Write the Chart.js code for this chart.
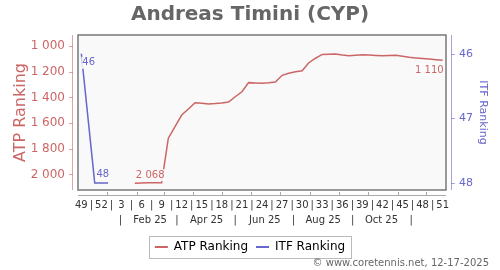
<!DOCTYPE html>
<html>
<head>
<meta charset="utf-8">
<script src="https://cdn.jsdelivr.net/npm/chart.js@4.4.0/dist/chart.umd.min.js"></script>
<style>
  html, body { margin: 0; padding: 0; background: #fff; }
</style>
</head>
<body>
<canvas id="rankChart" width="500" height="270"></canvas>
<script>
// week numbers, Dec 2024 (wk 49) to Dec 2025 (wk 51)
var weekNumbers = [49, 50, 51, 52, 1, 2, 3, 4, 5, 6, 7, 8, 9, 10, 11, 12, 13, 14, 15, 16,
    17, 18, 19, 20, 21, 22, 23, 24, 25, 26, 27, 28, 29, 30, 31, 32, 33, 34, 35, 36,
    37, 38, 39, 40, 41, 42, 43, 44, 45, 46, 47, 48, 49, 50, 51];

var atpRanking = [null, null, null, null, null, null, null, null,
    2068, 2066, 2065, 2064, 2064, 1718, 1627, 1537, 1490, 1441, 1446, 1451,
    1448, 1443, 1436, 1395, 1356, 1285, 1288, 1290, 1286, 1280, 1228, 1212,
    1200, 1192, 1130, 1095, 1065, 1063, 1062, 1070, 1075, 1072, 1068, 1070,
    1073, 1075, 1073, 1072, 1080, 1088, 1093, 1097, 1101, 1106, 1110];

var itfRanking = [46, 47, 48, 48, 48];

var atpTicks = [1000, 1200, 1400, 1600, 1800, 2000];
var itfTicks = [46, 47, 48];
var monthLabels = ["Feb 25", "Apr 25", "Jun 25", "Aug 25", "Oct 25"];
var monthLabelDates = [[2025, 1, 15], [2025, 3, 15], [2025, 5, 15], [2025, 7, 15], [2025, 9, 15]];
var monthSepDates = [[2025, 0, 15], [2025, 2, 15], [2025, 4, 15], [2025, 6, 15], [2025, 8, 15], [2025, 10, 15]];
var monthStartDates = [[2025, 0, 1], [2025, 1, 1], [2025, 2, 1], [2025, 3, 1], [2025, 4, 1], [2025, 5, 1],
    [2025, 6, 1], [2025, 7, 1], [2025, 8, 1], [2025, 9, 1], [2025, 10, 1], [2025, 11, 1]];

var atpColor = "#cc6666";
var itfColor = "#6666cc";
var font = "'DejaVu Sans', Verdana, sans-serif";

// position in weeks, point 0 = Thursday of week 49 2024
function weekPos(d) {
    return (Date.UTC(d[0], d[1], d[2]) - Date.UTC(2024, 11, 5)) / (7 * 86400000);
}
function fmt(v) {
    return String(v).replace(/\B(?=(\d{3})+(?!\d))/g, " ");
}

var weekTickVals = [];
for (var i = 0; i < weekNumbers.length; i += 3) {
    weekTickVals.push(i);
    if (i + 3 < weekNumbers.length) weekTickVals.push(i + 1.5);
}
var monthTickVals = [];
var monthTickText = {};
monthSepDates.forEach(function (d) { var p = weekPos(d); monthTickVals.push(p); monthTickText[p] = "|"; });
monthLabelDates.forEach(function (d, k) { var p = weekPos(d); monthTickVals.push(p); monthTickText[p] = monthLabels[k]; });
monthTickVals.sort(function (a, b) { return a - b; });

var plotDeco = {
    id: "plotDeco",
    beforeDatasetsDraw: function (chart) {
        var a = chart.chartArea, ctx = chart.ctx;
        ctx.save();
        ctx.fillStyle = "#f9f9f9";
        ctx.fillRect(a.left, a.top, a.right - a.left, a.bottom - a.top);
        ctx.restore();
    },
    afterDraw: function (chart) {
        var a = chart.chartArea, ctx = chart.ctx;
        ctx.save();
        ctx.strokeStyle = "#777";
        ctx.lineWidth = 1.5;
        ctx.strokeRect(a.left, a.top, a.right - a.left, a.bottom - a.top);

        // offset axis lines
        ctx.lineWidth = 1;
        ctx.strokeStyle = "rgba(204,102,102,0.6)";
        ctx.beginPath();
        ctx.moveTo(a.left - 5.5, a.top); ctx.lineTo(a.left - 5.5, a.bottom);
        chart.scales.y.ticks.forEach(function (t) {
            var y = Math.round(chart.scales.y.getPixelForValue(t.value)) + 0.5;
            ctx.moveTo(a.left - 9, y); ctx.lineTo(a.left - 5, y);
        });
        ctx.stroke();
        ctx.strokeStyle = "rgba(102,102,204,0.6)";
        ctx.beginPath();
        ctx.moveTo(a.right + 5.5, a.top); ctx.lineTo(a.right + 5.5, a.bottom);
        chart.scales.y1.ticks.forEach(function (t) {
            var y = Math.round(chart.scales.y1.getPixelForValue(t.value)) + 0.5;
            ctx.moveTo(a.right + 5, y); ctx.lineTo(a.right + 9, y);
        });
        ctx.stroke();
        ctx.strokeStyle = "#aaa";
        ctx.beginPath();
        ctx.moveTo(a.left, a.bottom + 5.5); ctx.lineTo(a.right, a.bottom + 5.5);
        chart.scales.x.ticks.forEach(function (t) {
            var x = Math.round(chart.scales.x.getPixelForValue(t.value)) + 0.5;
            ctx.moveTo(x, a.bottom + 2); ctx.lineTo(x, a.bottom + 5);
        });
        ctx.stroke();

        // legend frame
        var boxes = chart.legend.legendHitBoxes;
        if (boxes && boxes.length) {
            var l = boxes[0].left, r = boxes[boxes.length - 1].left + boxes[boxes.length - 1].width;
            var cy = boxes[0].top + boxes[0].height / 2;
            ctx.strokeStyle = "#bbb";
            ctx.strokeRect(Math.round(l - 6) + 0.5, Math.round(cy - 11) + 0.5, Math.round(r - l + 12), 22);
        }

        // credit
        ctx.fillStyle = "#666";
        ctx.font = "10px " + font;
        ctx.textAlign = "right";
        ctx.textBaseline = "middle";
        ctx.fillText("\u00a9 www.coretennis.net, 12-17-2025", 489, 263);
        ctx.restore();
    }
};

// value labels on first and last point of each series
var endLabels = {
    id: "endLabels",
    afterDatasetsDraw: function (chart) {
        var ctx = chart.ctx;
        var specs = [
            { ds: 0, first: { align: "left", dx: 1, dy: -8 }, last: { align: "right", dx: 1, dy: 10 } },
            { ds: 1, first: { align: "left", dx: 1, dy: 9 }, last: { align: "right", dx: 1, dy: -8 } }
        ];
        ctx.save();
        ctx.font = "10px " + font;
        ctx.textBaseline = "middle";
        specs.forEach(function (s) {
            var ds = chart.data.datasets[s.ds];
            var meta = chart.getDatasetMeta(s.ds);
            var idx = [];
            ds.data.forEach(function (p, k) { if (p.y !== null) idx.push(k); });
            [[idx[0], s.first], [idx[idx.length - 1], s.last]].forEach(function (pair) {
                var pt = meta.data[pair[0]], o = pair[1];
                var txt = fmt(ds.data[pair[0]].y);
                var w = ctx.measureText(txt).width;
                var x = o.align === "left" ? pt.x + o.dx : pt.x + o.dx - w;
                var y = pt.y + o.dy;
                ctx.fillStyle = "rgba(249,249,249,0.9)";
                ctx.fillRect(x - 1, y - 6, w + 2, 12);
                ctx.fillStyle = ds.borderColor;
                ctx.textAlign = "left";
                ctx.fillText(txt, x, y);
            });
        });
        ctx.restore();
    }
};

var ctx = document.getElementById("rankChart").getContext("2d");
new Chart(ctx, {
    type: "line",
    data: {
        datasets: [{
            label: "ATP Ranking",
            data: atpRanking.map(function (v, k) { return { x: k, y: v }; }),
            borderColor: atpColor,
            backgroundColor: atpColor,
            borderWidth: 1.5,
            pointRadius: 0,
            xAxisID: "x",
            yAxisID: "y"
        }, {
            label: "ITF Ranking",
            data: itfRanking.map(function (v, k) { return { x: k, y: v }; }),
            borderColor: itfColor,
            backgroundColor: itfColor,
            borderWidth: 1.5,
            pointRadius: 0,
            xAxisID: "x",
            yAxisID: "y1"
        }]
    },
    options: {
        responsive: false,
        animation: false,
        devicePixelRatio: 1,
        layout: { padding: { left: 0, right: 0, top: 0, bottom: 7 } },
        plugins: {
            title: {
                display: true,
                text: "Andreas Timini (CYP)",
                color: "#666",
                font: { family: font, size: 20, weight: "bold" },
                padding: { top: 3, bottom: 8 }
            },
            legend: {
                position: "bottom",
                labels: {
                    boxWidth: 13,
                    boxHeight: 2,
                    padding: 8,
                    color: "#000",
                    font: { family: font, size: 12 },
                    generateLabels: function (chart) {
                        var items = Chart.defaults.plugins.legend.labels.generateLabels(chart);
                        items.forEach(function (it) { it.lineWidth = 0; });
                        return items;
                    }
                }
            },
            tooltip: { enabled: false }
        },
        scales: {
            x: {
                type: "linear",
                position: "bottom",
                min: -0.5,
                max: weekNumbers.length - 0.5,
                afterBuildTicks: function (axis) {
                    axis.ticks = monthStartDates.map(function (d) { return { value: weekPos(d) }; });
                },
                ticks: { display: false },
                grid: { color: "#dddddd", drawTicks: false },
                border: { display: false, dash: [3, 3] },
                afterFit: function (axis) { axis.height = 1; }
            },
            xw: {
                type: "linear",
                position: "bottom",
                weight: 1,
                min: -0.5,
                max: weekNumbers.length - 0.5,
                afterBuildTicks: function (axis) {
                    axis.ticks = weekTickVals.map(function (v) { return { value: v }; });
                },
                ticks: {
                    autoSkip: false,
                    maxRotation: 0,
                    padding: 8,
                    color: "#333",
                    font: { family: font, size: 10 },
                    callback: function (v) { return v % 1 === 0 ? String(weekNumbers[v]) : "|"; }
                },
                grid: { display: false, drawTicks: false },
                border: { display: false },
                afterFit: function (axis) { axis.height = 20; }
            },
            xm: {
                type: "linear",
                position: "bottom",
                weight: 2,
                min: -0.5,
                max: weekNumbers.length - 0.5,
                afterBuildTicks: function (axis) {
                    axis.ticks = monthTickVals.map(function (v) { return { value: v }; });
                },
                ticks: {
                    autoSkip: false,
                    maxRotation: 0,
                    padding: 3,
                    color: "#333",
                    font: { family: font, size: 10 },
                    callback: function (v) { return monthTickText[v]; }
                },
                grid: { display: false, drawTicks: false },
                border: { display: false },
                afterFit: function (axis) { axis.height = 22; }
            },
            y: {
                type: "linear",
                position: "left",
                reverse: true,
                min: 914,
                max: 2121,
                afterBuildTicks: function (axis) {
                    axis.ticks = atpTicks.map(function (v) { return { value: v }; });
                },
                ticks: {
                    padding: 13,
                    color: atpColor,
                    font: { family: font, size: 12 },
                    callback: function (v) { return fmt(v); }
                },
                grid: { color: "#dddddd", drawTicks: false },
                border: { display: false, dash: [3, 3] },
                title: {
                    display: true,
                    text: "ATP Ranking",
                    color: atpColor,
                    font: { family: font, size: 16 },
                    padding: { top: 11, bottom: 0 }
                },
                afterFit: function (axis) { axis.width = 78; }
            },
            y1: {
                type: "linear",
                position: "right",
                reverse: true,
                min: 45.71,
                max: 48.11,
                afterBuildTicks: function (axis) {
                    axis.ticks = itfTicks.map(function (v) { return { value: v }; });
                },
                ticks: {
                    padding: 13,
                    color: itfColor,
                    font: { family: font, size: 11 }
                },
                grid: { drawOnChartArea: false, drawTicks: false },
                border: { display: false },
                title: {
                    display: true,
                    text: "ITF Ranking",
                    color: itfColor,
                    font: { family: font, size: 11 },
                    padding: { top: 11, bottom: 0 }
                },
                afterFit: function (axis) { axis.width = 54; }
            }
        }
    },
    plugins: [plotDeco, endLabels]
});
</script>
</body>
</html>
